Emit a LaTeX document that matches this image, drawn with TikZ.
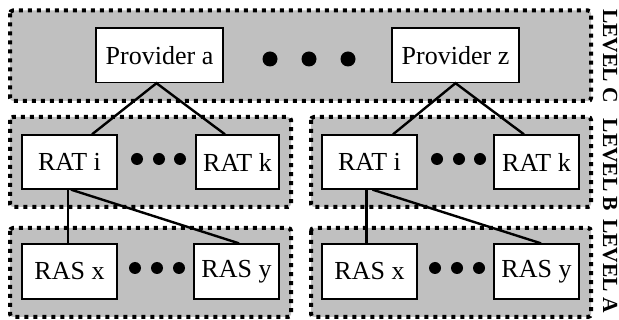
\documentclass[tikz,border=0pt]{standalone}
\usepackage{fontspec}
\setmainfont{Liberation Serif}
\usetikzlibrary{calc}
\definecolor{levelgray}{HTML}{C0C0C0}
\begin{document}
\begin{tikzpicture}[x=1pt,y=-1pt,
  levelbox/.style={draw=black,fill=levelgray,line width=4pt,dash pattern=on 4pt off 5pt,rounded corners=3pt},
  unitbox/.style={draw=black,fill=white,line width=1.3pt,inner sep=0pt,anchor=center,font=\fontsize{26}{30}\selectfont},
  link/.style={line width=2.4pt},
  bigdot/.style={circle,fill=black,inner sep=0pt,minimum size=15pt},
  smalldot/.style={circle,fill=black,inner sep=0pt,minimum size=12pt},
  levellabel/.style={rotate=-90,font=\bfseries\fontsize{21.5}{24}\selectfont,inner sep=0pt}]
\useasboundingbox (0,0) rectangle (619,320);
% level frames
\draw[levelbox] (10,10.5) rectangle (591,101);
\draw[levelbox] (10,117) rectangle (291,207);
\draw[levelbox] (311,117) rectangle (591,207);
\draw[levelbox] (10,228) rectangle (291,317);
\draw[levelbox] (311,228) rectangle (591,317);
% level C
\node[unitbox,minimum width=127pt,minimum height=54.5pt] (pa) at (159.5,55.3) {Provider a};
\node[unitbox,minimum width=127pt,minimum height=54.5pt] (pz) at (455.5,55.3) {Provider z};
\node[bigdot] (dc1) at (270,59) {};
\node[bigdot] (dc2) at (309,59) {};
\node[bigdot] (dc3) at (348,59) {};
% level B
\node[unitbox,minimum width=95pt,minimum height=54pt] (rati1) at (69.5,162) {RAT i};
\node[unitbox,minimum width=83pt,minimum height=54pt] (ratk1) at (237.5,162) {RAT k};
\node[unitbox,minimum width=95pt,minimum height=54pt] (rati2) at (369.5,162) {RAT i};
\node[unitbox,minimum width=85pt,minimum height=54pt] (ratk2) at (536.5,162) {RAT k};
\node[smalldot] (db1) at (137,159) {};
\node[smalldot] (db2) at (159,159) {};
\node[smalldot] (db3) at (180,159) {};
\node[smalldot] (db4) at (437,159) {};
\node[smalldot] (db5) at (459,159) {};
\node[smalldot] (db6) at (480,159) {};
% level A
\node[unitbox,minimum width=95pt,minimum height=55pt] (rasx1) at (69.5,271.5) {RAS x};
\node[unitbox,minimum width=85pt,minimum height=55pt] (rasy1) at (236.5,271.5) {RAS y};
\node[unitbox,minimum width=95pt,minimum height=55pt] (rasx2) at (369.5,271.5) {RAS x};
\node[unitbox,minimum width=85pt,minimum height=55pt] (rasy2) at (536.5,271.5) {RAS y};
\node[smalldot] (da1) at (135,268) {};
\node[smalldot] (da2) at (157,268) {};
\node[smalldot] (da3) at (179,268) {};
\node[smalldot] (da4) at (435,268) {};
\node[smalldot] (da5) at (457,268) {};
\node[smalldot] (da6) at (479,268) {};
% connectors
\draw[link] ($(rati1.north)+(22.5,0)$) -- ($(pa.south)+(-3,0)$) -- ($(ratk1.north)+(-12.5,0)$);
\draw[link] ($(rati2.north)+(23.5,0)$) -- (pz.south) -- ($(ratk2.north)+(-12.5,0)$);
\draw[link] ($(rati1.south)+(-1.5,0)$) -- ($(rasx1.north)+(-1.5,0)$);
\draw[link] ($(rati1.south)+(1.5,0)$) -- ($(rasy1.north)+(2.5,0)$);
\draw[link] ($(rati2.south)+(-3,0)$) -- ($(rasx2.north)+(-3,0)$);
\draw[link] ($(rati2.south)+(3,0)$) -- ($(rasy2.north)+(4.5,0)$);
% labels
\node[levellabel] (lc) at (610,56) {LEVEL C};
\node[levellabel] (lb) at (610,165) {LEVEL B};
\node[levellabel] (la) at (610,266) {LEVEL A};
\end{tikzpicture}
\end{document}
